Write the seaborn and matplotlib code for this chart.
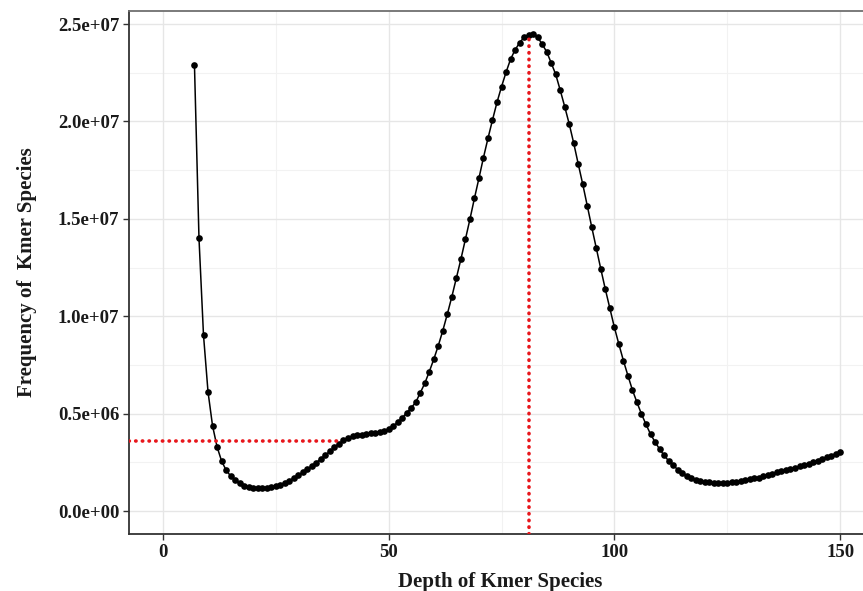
import numpy as np
import pandas as pd
import matplotlib
matplotlib.use('Agg')
import matplotlib.pyplot as plt
import seaborn as sns

# depth 7..150, frequency in units of 1e6
depth = list(range(7, 151))
freq_m = [
    22.88, 14.00, 9.03, 6.12, 4.38, 3.30, 2.57, 2.10, 1.80, 1.58,   # 7-16
    1.42, 1.30, 1.22, 1.18, 1.16, 1.17, 1.19, 1.23, 1.29, 1.36,     # 17-26
    1.45, 1.56, 1.69, 1.83, 1.98, 2.14, 2.31, 2.49, 2.68, 2.87,     # 27-36
    3.07, 3.27, 3.46, 3.63, 3.76, 3.84, 3.89, 3.92, 3.95, 3.98,     # 37-46
    4.01, 4.05, 4.12, 4.22, 4.36, 4.55, 4.78, 5.04, 5.30, 5.58,     # 47-56
    6.07, 6.55, 7.15, 7.79, 8.49, 9.26, 10.11, 11.00, 11.95, 12.92,  # 57-66
    13.95, 14.97, 16.05, 17.08, 18.14, 19.13, 20.07, 20.98, 21.78, 22.52,  # 67-76
    23.19, 23.67, 24.04, 24.32, 24.44, 24.49, 24.32, 23.97, 23.58, 23.01,  # 77-86
    22.42, 21.61, 20.76, 19.87, 18.88, 17.81, 16.77, 15.66, 14.56, 13.49,  # 87-96
    12.42, 11.38, 10.40, 9.43, 8.56, 7.72, 6.95, 6.21, 5.58, 4.98,   # 97-106
    4.45, 3.95, 3.55, 3.18, 2.86, 2.58, 2.36, 2.13, 1.95, 1.80,      # 107-116
    1.68, 1.59, 1.53, 1.49, 1.47, 1.45, 1.45, 1.45, 1.46, 1.48,      # 117-126
    1.50, 1.53, 1.57, 1.62, 1.67, 1.72, 1.78, 1.85, 1.92, 1.98,      # 127-136
    2.04, 2.10, 2.16, 2.22, 2.29, 2.36, 2.43, 2.50, 2.58, 2.66,      # 137-146
    2.75, 2.84, 2.94, 3.04,                                          # 147-150
]
freq = [v * 1e6 for v in freq_m]

# red guide lines
peak_depth = 81
peak_freq = 24.44e6
shoulder_depth = 39.5
shoulder_freq = 3.6e6

xticks = [0, 50, 100, 150]
yticks = [0, 5e6, 1e7, 1.5e7, 2e7, 2.5e7]
ytick_labels = ['0.0e+00', '0.5e+06', '1.0e+07', '1.5e+07', '2.0e+07', '2.5e+07']

df = pd.DataFrame({'depth': depth, 'freq': freq})

sns.set_theme(style='white')
plt.rcParams['font.family'] = ['Liberation Serif', 'DejaVu Serif']
plt.rcParams['font.weight'] = 'bold'

fig = plt.figure(figsize=(8.63, 5.91), dpi=100)
ax = fig.add_axes([129 / 863, 1 - 534 / 591, (874 - 129) / 863, (534 - 11) / 591])

xmin, xmax = -7.5, 157.5
ymin, ymax = -1.18e6, 25.67e6

# grid
for x in [25, 75, 125]:
    ax.axvline(x, color='#f2f2f2', lw=0.8, zorder=0)
for y in [2.5e6, 7.5e6, 1.25e7, 1.75e7, 2.25e7]:
    ax.axhline(y, color='#f2f2f2', lw=0.8, zorder=0)
for x in xticks:
    ax.axvline(x, color='#e6e6e6', lw=1.0, zorder=0)
for y in yticks:
    ax.axhline(y, color='#e6e6e6', lw=1.0, zorder=0)

sns.lineplot(data=df, x='depth', y='freq', ax=ax, color='black', linewidth=1.1,
             marker='o', markersize=4.8, markeredgewidth=0, zorder=3)

dots = (0, (0.1, 1.75))
ax.plot([xmin, shoulder_depth], [shoulder_freq, shoulder_freq], color='#e8161b',
        lw=2.6, linestyle=dots, dash_capstyle='round', zorder=4)
ax.plot([peak_depth, peak_depth], [ymin, peak_freq], color='#e8161b',
        lw=2.6, linestyle=dots, dash_capstyle='round', zorder=4)

ax.set_xlim(xmin, xmax)
ax.set_ylim(ymin, ymax)
ax.set_xticks(xticks)
ax.set_xticklabels([str(t) for t in xticks])
ax.set_yticks(yticks)
ax.set_yticklabels(ytick_labels)
ax.tick_params(axis='both', which='major', length=4, width=1, color='#333333',
               labelsize=13.5, labelcolor='#1a1a1a', pad=3, direction='out',
               bottom=True, left=True)
for lab in ax.get_xticklabels() + ax.get_yticklabels():
    lab.set_fontweight('bold')

ax.set_xlabel('Depth of Kmer Species', fontsize=15, fontweight='bold', color='#1a1a1a')
ax.set_ylabel('Frequency of  Kmer Species', fontsize=15, fontweight='bold', color='#1a1a1a')
ax.xaxis.set_label_coords((500 - 129) / 745, -0.072)
ax.yaxis.set_label_coords(-0.124, 0.5)

for side in ['left', 'bottom']:
    ax.spines[side].set_color('#333333')
    ax.spines[side].set_linewidth(1.3)
ax.spines['top'].set_color('#707070')
ax.spines['top'].set_linewidth(1.3)
ax.spines['right'].set_color('#707070')

fig.savefig('out.png', dpi=100)
